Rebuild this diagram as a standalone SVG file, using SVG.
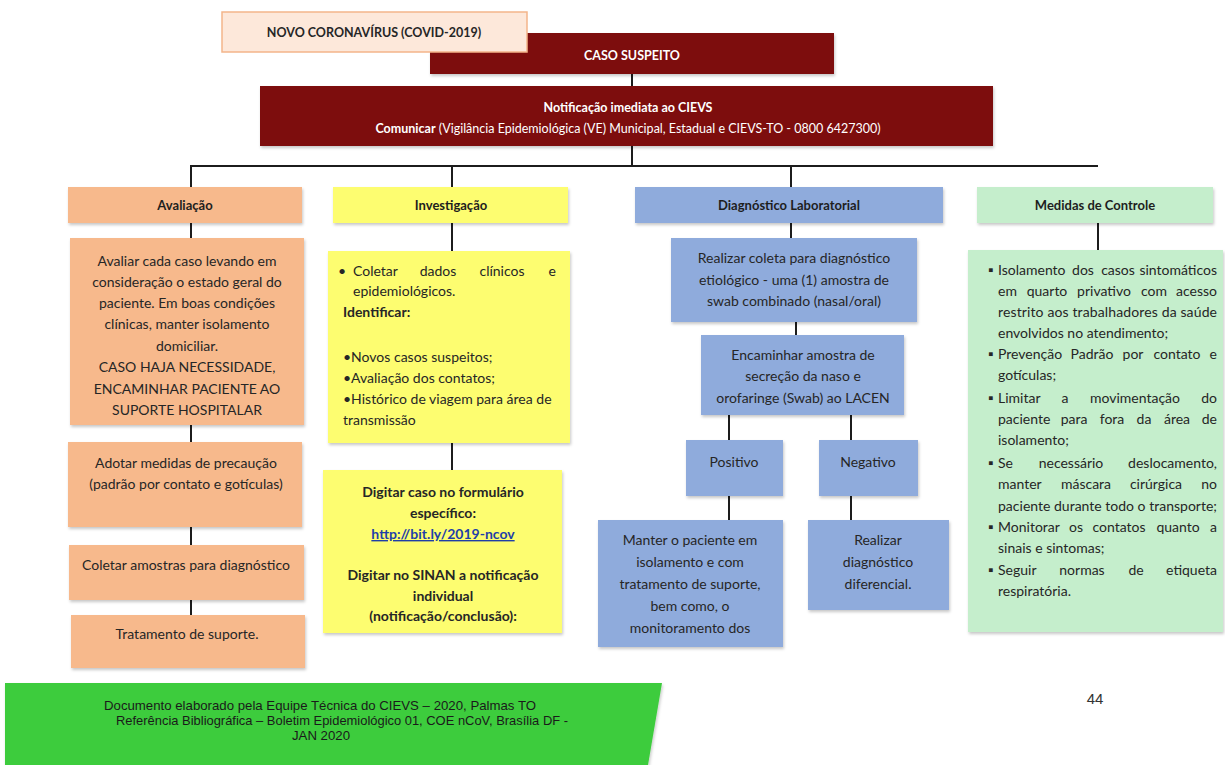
<svg xmlns="http://www.w3.org/2000/svg" width="1225" height="765" viewBox="0 0 1225 765">
<defs>
<filter id="sh" x="-5%" y="-5%" width="115%" height="120%">
<feDropShadow dx="1" dy="2" stdDeviation="1.5" flood-color="#000" flood-opacity="0.22"/>
</filter>
<style>
.t{font-family:Lato,"Liberation Sans",sans-serif;font-size:14px;fill:#262626}
.h{font-family:Lato,"Liberation Sans",sans-serif;font-size:13px;font-weight:bold;fill:#1e1e1e;text-anchor:middle}
.w{font-family:Lato,"Liberation Sans",sans-serif;font-size:12.5px;fill:#ffffff;text-anchor:middle}
.b{font-weight:bold}
.c{text-anchor:middle}
.e{text-anchor:end}
.av{fill:#f7b98c;filter:url(#sh)}
.inv{fill:#fdfd70;filter:url(#sh)}
.dl{fill:#8fabdc;filter:url(#sh)}
.mc{fill:#c5eecc;filter:url(#sh)}
.red{fill:#7d0a0a;filter:url(#sh)}
.conn line{stroke:#1c1c1c;stroke-width:2}
.ft{font-family:"Liberation Sans",Arial,sans-serif;font-size:13.5px;fill:#1a1a1a;text-anchor:middle}
</style>
</defs>
<rect width="1225" height="765" fill="#ffffff"/>

<g id="connectors" class="conn">
<line x1="632" y1="74" x2="632" y2="86"/>
<line x1="632" y1="146" x2="632" y2="166"/>
<line x1="190" y1="166" x2="1098" y2="166"/>
<line x1="191" y1="165" x2="191" y2="187"/>
<line x1="452" y1="165" x2="452" y2="187"/>
<line x1="791" y1="165" x2="791" y2="187"/>
<line x1="191" y1="223" x2="191" y2="238"/>
<line x1="191" y1="425" x2="191" y2="442"/>
<line x1="191" y1="527" x2="191" y2="545"/>
<line x1="191" y1="600" x2="191" y2="615"/>
<line x1="452" y1="223" x2="452" y2="251"/>
<line x1="452" y1="443" x2="452" y2="470"/>
<line x1="791" y1="223" x2="791" y2="238"/>
<line x1="796" y1="322" x2="796" y2="335"/>
<line x1="729" y1="415" x2="729" y2="440"/>
<line x1="851" y1="415" x2="851" y2="440"/>
<line x1="729" y1="496" x2="729" y2="520"/>
<line x1="851" y1="496" x2="851" y2="520"/>
<line x1="1098" y1="223" x2="1098" y2="250"/>
</g>

<g id="caso-suspeito">
<rect class="red" x="430" y="33" width="404" height="41"/>
<text class="w b" x="632" y="60">CASO SUSPEITO</text>
</g>

<g id="titulo">
<rect x="222" y="12" width="305" height="40" fill="#fde8da" stroke="#f3b58a" stroke-width="1.5"/>
<text class="t b c" x="374" y="37" style="font-size:12.5px">NOVO CORONAVÍRUS (COVID-2019)</text>
</g>

<g id="notificacao">
<rect class="red" x="260" y="86" width="733" height="60"/>
<text class="w b" x="628" y="112">Notificação imediata ao CIEVS</text>
<text class="w" x="628" y="133"><tspan class="b">Comunicar</tspan> (Vigilância Epidemiológica (VE) Municipal, Estadual e CIEVS-TO - 0800 6427300)</text>
</g>

<g id="avaliacao">
<rect class="av" x="68" y="187" width="234" height="36"/>
<text class="h" x="185" y="210">Avaliação</text>
</g>
<g id="avaliacao-1">
<rect class="av" x="70" y="238" width="234" height="187"/>
<text class="t c" x="187" y="266">Avaliar cada caso levando em</text>
<text class="t c" x="187" y="287">consideração o estado geral do</text>
<text class="t c" x="187" y="308">paciente. Em boas condições</text>
<text class="t c" x="187" y="329">clínicas, manter isolamento</text>
<text class="t c" x="187" y="351">domiciliar.</text>
<text class="t c" x="187" y="372">CASO HAJA NECESSIDADE,</text>
<text class="t c" x="187" y="394">ENCAMINHAR PACIENTE AO</text>
<text class="t c" x="187" y="415">SUPORTE HOSPITALAR</text>
</g>
<g id="avaliacao-2">
<rect class="av" x="68" y="442" width="234" height="85"/>
<text class="t c" x="186" y="468">Adotar medidas de precaução</text>
<text class="t c" x="186" y="489">(padrão por contato e gotículas)</text>
</g>
<g id="avaliacao-3">
<rect class="av" x="69" y="545" width="235" height="55"/>
<text class="t c" x="186" y="570">Coletar amostras para diagnóstico</text>
</g>
<g id="avaliacao-4">
<rect class="av" x="71" y="615" width="234" height="53"/>
<text class="t c" x="187" y="639">Tratamento de suporte.</text>
</g>

<g id="investigacao">
<rect class="inv" x="333" y="187" width="235" height="36"/>
<text class="h" x="451" y="210">Investigação</text>
</g>
<g id="investigacao-1">
<rect class="inv" x="328" y="251" width="242" height="192"/>
<text class="t" x="338" y="276">•</text>
<text class="t" x="353" y="276">Coletar</text>
<text class="t c" x="438" y="276">dados</text>
<text class="t c" x="502" y="276">clínicos</text>
<text class="t e" x="556" y="276">e</text>
<text class="t" x="353" y="296">epidemiológicos.</text>
<text class="t b" x="343" y="317">Identificar:</text>
<text class="t" x="343" y="362">•Novos casos suspeitos;</text>
<text class="t" x="343" y="383">•Avaliação dos contatos;</text>
<text class="t" x="343" y="404">•Histórico de viagem para área de</text>
<text class="t" x="343" y="425">transmissão</text>
</g>
<g id="investigacao-2">
<rect class="inv" x="323" y="470" width="239" height="163"/>
<text class="t b c" x="443" y="497">Digitar caso no formulário</text>
<text class="t b c" x="443" y="518">específico:</text>
<text class="t b c" x="443" y="539" style="fill:#1f3fa8;text-decoration:underline">http://bit.ly/2019-ncov</text>
<text class="t b c" x="443" y="580">Digitar no SINAN a notificação</text>
<text class="t b c" x="443" y="601">individual</text>
<text class="t b c" x="443" y="621">(notificação/conclusão):</text>
</g>

<g id="diagnostico">
<rect class="dl" x="635" y="187" width="308" height="36"/>
<text class="h" x="789" y="210">Diagnóstico Laboratorial</text>
</g>
<g id="diagnostico-1">
<rect class="dl" x="671" y="238" width="246" height="84"/>
<text class="t c" x="794" y="263">Realizar coleta para diagnóstico</text>
<text class="t c" x="794" y="285">etiológico - uma (1) amostra de</text>
<text class="t c" x="794" y="306">swab combinado (nasal/oral)</text>
</g>
<g id="diagnostico-2">
<rect class="dl" x="701" y="335" width="203" height="80"/>
<text class="t c" x="803" y="360">Encaminhar amostra de</text>
<text class="t c" x="803" y="381">secreção da naso e</text>
<text class="t c" x="803" y="403">orofaringe (Swab) ao LACEN</text>
</g>
<g id="positivo">
<rect class="dl" x="686" y="440" width="97" height="56"/>
<text class="t c" x="734" y="467">Positivo</text>
</g>
<g id="negativo">
<rect class="dl" x="819" y="440" width="99" height="56"/>
<text class="t c" x="868" y="467">Negativo</text>
</g>
<g id="manter">
<rect class="dl" x="598" y="520" width="185" height="127"/>
<text class="t c" x="690" y="545">Manter o paciente em</text>
<text class="t c" x="690" y="567">isolamento e com</text>
<text class="t c" x="690" y="589">tratamento de suporte,</text>
<text class="t c" x="690" y="611">bem como, o</text>
<text class="t c" x="690" y="633">monitoramento dos</text>
</g>
<g id="realizar">
<rect class="dl" x="808" y="520" width="141" height="90"/>
<text class="t c" x="878" y="545">Realizar</text>
<text class="t c" x="878" y="567">diagnóstico</text>
<text class="t c" x="878" y="589">diferencial.</text>
</g>

<g id="medidas">
<rect class="mc" x="977" y="187" width="236" height="36"/>
<text class="h" x="1095" y="210">Medidas de Controle</text>
</g>
<g id="medidas-1">
<rect class="mc" x="968" y="250" width="255" height="382"/>
<g class="t">
<text class="t" x="988" y="275">▪</text>
<text class="t" x="998" y="275">Isolamento</text>
<text class="t c" x="1083" y="275">dos</text>
<text class="t c" x="1118" y="275">casos</text>
<text class="t e" x="1217" y="275">sintomáticos</text>

<text class="t" x="998" y="296">em</text>
<text class="t c" x="1047" y="296">quarto</text>
<text class="t c" x="1104" y="296">privativo</text>
<text class="t c" x="1154" y="296">com</text>
<text class="t e" x="1217" y="296">acesso</text>

<text class="t" x="998" y="317" textLength="219" lengthAdjust="spacing">restrito aos trabalhadores da saúde</text>
<text class="t" x="998" y="338">envolvidos no atendimento;</text>

<text class="t" x="988" y="359">▪</text>
<text class="t" x="998" y="359">Prevenção</text>
<text class="t c" x="1092" y="359">Padrão</text>
<text class="t c" x="1133" y="359">por</text>
<text class="t c" x="1177" y="359">contato</text>
<text class="t e" x="1217" y="359">e</text>
<text class="t" x="998" y="380">gotículas;</text>

<text class="t" x="988" y="403">▪</text>
<text class="t" x="998" y="403">Limitar</text>
<text class="t c" x="1065" y="403">a</text>
<text class="t c" x="1135" y="403">movimentação</text>
<text class="t e" x="1217" y="403">do</text>

<text class="t" x="998" y="424">paciente</text>
<text class="t c" x="1074" y="424">para</text>
<text class="t c" x="1112" y="424">fora</text>
<text class="t c" x="1144" y="424">da</text>
<text class="t c" x="1177" y="424">área</text>
<text class="t e" x="1217" y="424">de</text>
<text class="t" x="998" y="445">isolamento;</text>

<text class="t" x="988" y="468">▪</text>
<text class="t" x="998" y="468">Se</text>
<text class="t c" x="1071" y="468">necessário</text>
<text class="t e" x="1217" y="468">deslocamento,</text>

<text class="t" x="998" y="489">manter</text>
<text class="t c" x="1086" y="489">máscara</text>
<text class="t c" x="1156" y="489">cirúrgica</text>
<text class="t e" x="1217" y="489">no</text>

<text class="t" x="998" y="511" textLength="219" lengthAdjust="spacing">paciente durante todo o transporte;</text>

<text class="t" x="988" y="532">▪</text>
<text class="t" x="998" y="532">Monitorar</text>
<text class="t c" x="1076" y="532">os</text>
<text class="t c" x="1119" y="532">contatos</text>
<text class="t c" x="1178" y="532">quanto</text>
<text class="t e" x="1217" y="532">a</text>
<text class="t" x="998" y="553">sinais e sintomas;</text>

<text class="t" x="988" y="575">▪</text>
<text class="t" x="998" y="575">Seguir</text>
<text class="t c" x="1082" y="575">normas</text>
<text class="t c" x="1136" y="575">de</text>
<text class="t e" x="1217" y="575">etiqueta</text>
<text class="t" x="998" y="596">respiratória.</text>
</g>
</g>

<g id="rodape">
<polygon points="5,683 662,683 648,765 5,765" fill="#3dcc3d" filter="url(#sh)"/>
<text class="ft" x="320" y="710" textLength="432" lengthAdjust="spacingAndGlyphs">Documento elaborado pela Equipe Técnica do CIEVS – 2020, Palmas TO</text>
<text class="ft" x="342" y="725" textLength="452" lengthAdjust="spacingAndGlyphs">Referência Bibliográfica – Boletim Epidemiológico 01, COE nCoV, Brasília DF -</text>
<text class="ft" x="321" y="740" textLength="58" lengthAdjust="spacingAndGlyphs">JAN 2020</text>
</g>

<g id="pagina">
<text x="1095" y="704" style="font-family:'Liberation Sans',Arial,sans-serif;font-size:15px;fill:#333;text-anchor:middle">44</text>
</g>
</svg>
